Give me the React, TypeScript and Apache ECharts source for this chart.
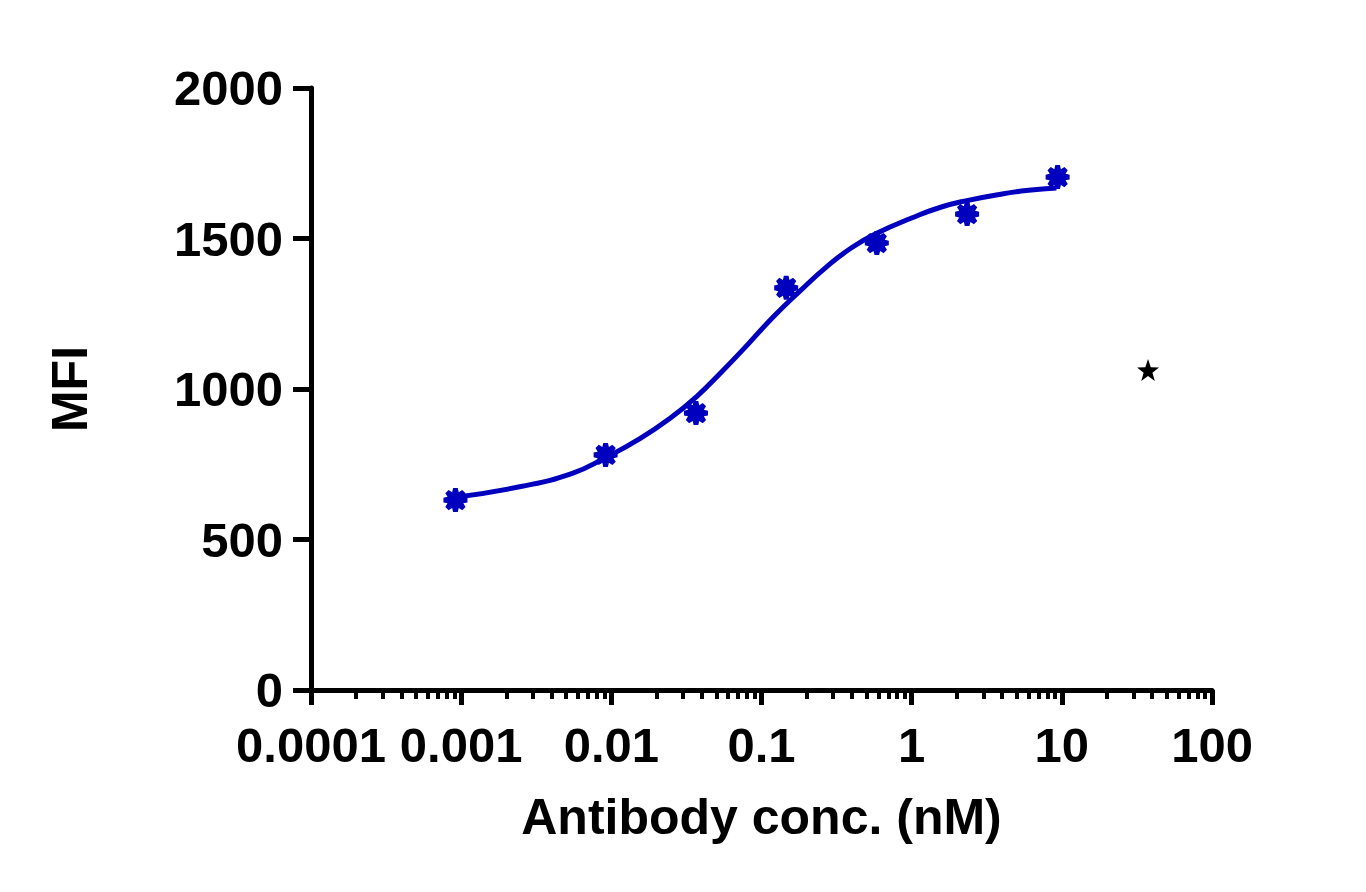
import React, { useEffect, useRef } from 'react';
import * as echarts from 'echarts';

// measured points (antibody conc. in nM, MFI)
const concentrations = [0.000916, 0.00916, 0.0366, 0.146, 0.586, 2.34, 9.375];
const mfiValues = [631, 781, 920, 1336, 1485, 1581, 1704];

// excluded point (black star)
const excludedConc = [37.5];
const excludedMfi = [1063];

// fitted curve
const fitConc = [0.00091, 0.0025, 0.0055, 0.009, 0.0155, 0.025, 0.037, 0.055, 0.08, 0.12, 0.18, 0.27, 0.4, 0.6, 1.0, 1.54, 2.33, 4.0, 6.0, 9.2];
const fitMfi = [640, 676, 720, 770, 835, 905, 975, 1060, 1145, 1240, 1325, 1405, 1470, 1520, 1568, 1603, 1626, 1648, 1660, 1668];

const xTickLabels = ['0.0001', '0.001', '0.01', '0.1', '1', '10', '100'];
const decades = [0.0001, 0.001, 0.01, 0.1, 1, 10];
const minorSteps = [2, 3, 4, 5, 6, 7, 8, 9];

const BLUE = '#0000BE';
const FONT = '"Liberation Sans", Arial, sans-serif';

const cogPath = () => {
  const pts: string[] = [];
  for (let k = 0; k < 8; k++) {
    const a = (k * 45 * Math.PI) / 180;
    const d = (11 * Math.PI) / 180;
    const h = (22.5 * Math.PI) / 180;
    pts.push(`${(10 * Math.cos(a - d)).toFixed(2)} ${(10 * Math.sin(a - d)).toFixed(2)}`);
    pts.push(`${(10 * Math.cos(a + d)).toFixed(2)} ${(10 * Math.sin(a + d)).toFixed(2)}`);
    pts.push(`${(7 * Math.cos(a + h)).toFixed(2)} ${(7 * Math.sin(a + h)).toFixed(2)}`);
  }
  return 'path://M' + pts.join(' L') + ' Z';
};

const starPath = () => {
  const pts: string[] = [];
  for (let k = 0; k < 10; k++) {
    const r = k % 2 === 0 ? 10 : 4;
    const a = -Math.PI / 2 + (k * Math.PI) / 5;
    pts.push(`${(r * Math.cos(a)).toFixed(2)} ${(r * Math.sin(a)).toFixed(2)}`);
  }
  return 'path://M' + pts.join(' L') + ' Z';
};

const App: React.FC = () => {
  const chartRef = useRef<HTMLDivElement>(null);

  useEffect(() => {
    const chart = echarts.init(chartRef.current!, undefined, { renderer: 'svg' });
    const minorTicks: number[] = [];
    decades.forEach((d) => minorSteps.forEach((m) => minorTicks.push(d * m)));

    const option = {
      animation: false,
      backgroundColor: '#ffffff',
      grid: { left: 311, right: 154, top: 88, bottom: 202, containLabel: false },
      xAxis: [
        {
          type: 'log',
          logBase: 10,
          min: 0.0001,
          max: 100,
          position: 'bottom',
          name: 'Antibody conc. (nM)',
          nameLocation: 'middle',
          nameGap: 102,
          nameTextStyle: { fontFamily: FONT, fontWeight: 'bold', fontSize: 50, color: '#000' },
          axisLine: { show: true, lineStyle: { color: '#000', width: 5 } },
          axisTick: { show: true, length: 15, lineStyle: { color: '#000', width: 5 } },
          axisLabel: {
            margin: 30,
            fontFamily: FONT,
            fontWeight: 'bold',
            fontSize: 49,
            color: '#000',
            formatter: (_v: number, i: number) => xTickLabels[i] ?? '',
          },
          splitLine: { show: false },
        },
        {
          type: 'log',
          logBase: 10,
          min: 0.0001,
          max: 100,
          position: 'bottom',
          offset: 0,
          axisLine: { show: false },
          axisLabel: { show: false },
          axisTick: { show: true, length: 9, customValues: minorTicks, lineStyle: { color: '#000', width: 4 } },
          splitLine: { show: false },
        },
      ],
      yAxis: {
        type: 'value',
        min: 0,
        max: 2000,
        interval: 500,
        name: 'MFI',
        nameLocation: 'middle',
        nameGap: 216,
        nameRotate: 90,
        nameTextStyle: { fontFamily: FONT, fontWeight: 'bold', fontSize: 50, color: '#000' },
        axisLine: { show: true, lineStyle: { color: '#000', width: 5 } },
        axisTick: { show: true, length: 18, lineStyle: { color: '#000', width: 5 } },
        axisLabel: {
          margin: 28,
          fontFamily: FONT,
          fontWeight: 'bold',
          fontSize: 49,
          color: '#000',
          formatter: (v: number) => String(v),
        },
        splitLine: { show: false },
      },
      series: [
        {
          type: 'line',
          xAxisIndex: 0,
          data: fitConc.map((c, i) => [c, fitMfi[i]]),
          smooth: 0.5,
          showSymbol: false,
          lineStyle: { color: BLUE, width: 5 },
          z: 2,
        },
        {
          type: 'scatter',
          xAxisIndex: 0,
          data: concentrations.map((c, i) => [c, mfiValues[i]]),
          symbol: cogPath(),
          symbolSize: 24,
          itemStyle: { color: BLUE, opacity: 1 },
          z: 3,
        },
        {
          type: 'scatter',
          xAxisIndex: 0,
          data: excludedConc.map((c, i) => [c, excludedMfi[i]]),
          symbol: starPath(),
          symbolSize: 22,
          itemStyle: { color: '#000', opacity: 1 },
          z: 3,
        },
      ],
    };

    chart.setOption(option);
    return () => {
      chart.dispose();
    };
  }, []);

  return (
    <div
      ref={chartRef}
      style={{ position: 'fixed', left: 0, top: 0, width: '1366px', height: '892px' }}
    />
  );
};

export default App;
